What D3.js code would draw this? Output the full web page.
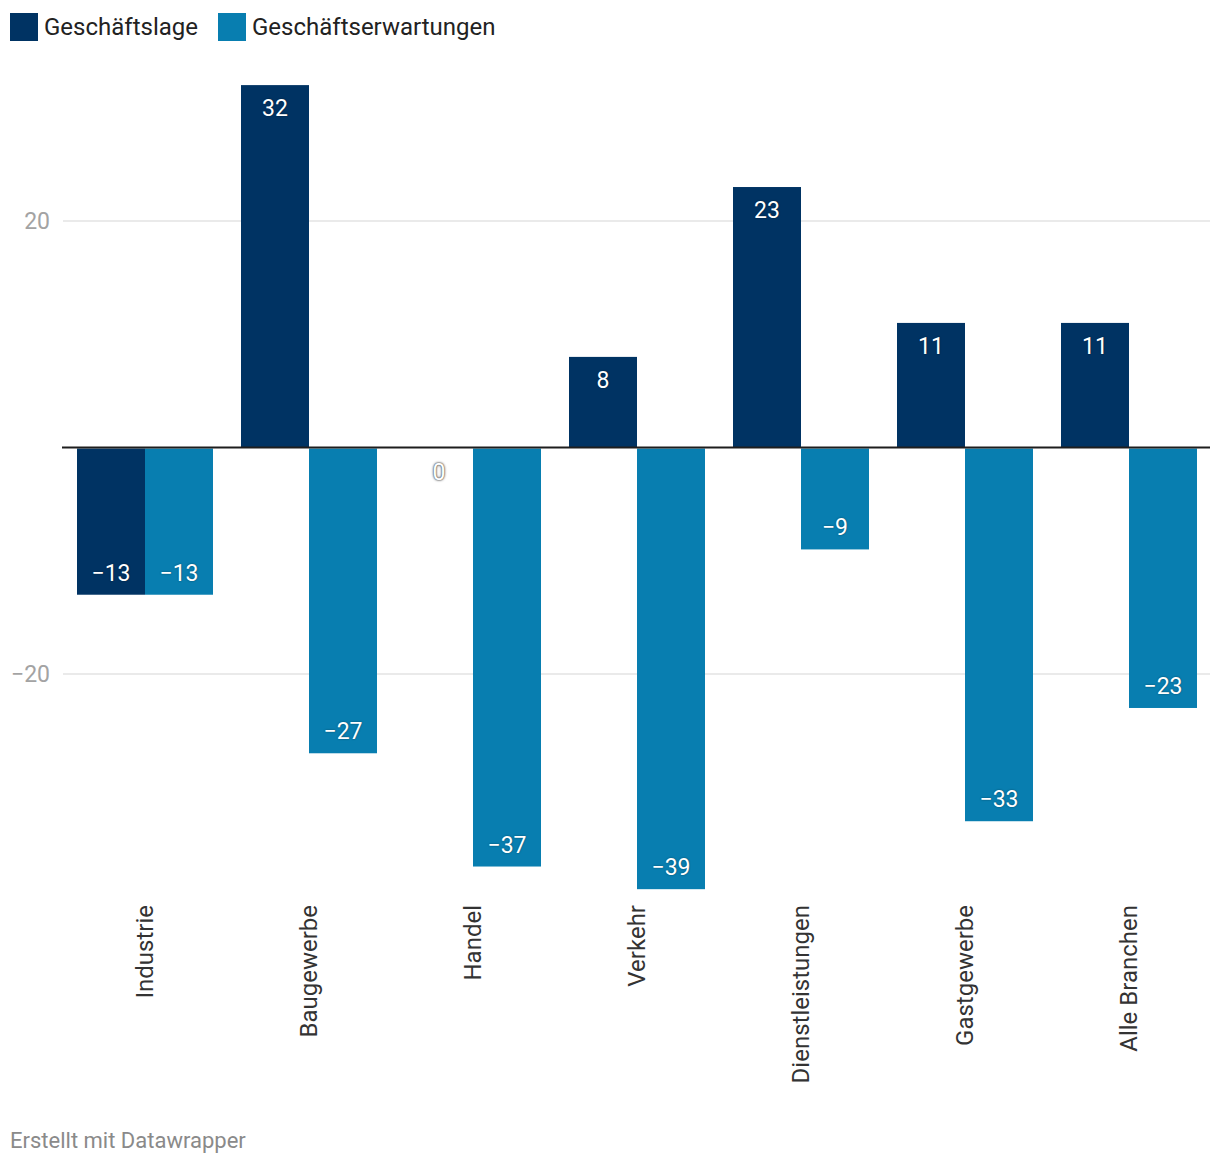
<!DOCTYPE html>
<html><head><meta charset="utf-8">
<script src="https://cdn.jsdelivr.net/npm/d3@7"></script>
<style>
body{margin:0;background:#fff;font-family:Roboto,"Noto Sans",sans-serif;}
svg text{font-family:Roboto,"Noto Sans",sans-serif;}
.vl{fill:#fff;font-size:23px;text-shadow:0 0 2px rgba(0,0,0,0.45);}
.vl0{fill:#fff;font-size:23px;text-shadow:0 0 1px #555,0 0 2px #555,0 0 3px #888;}
</style></head><body>
<svg id="c" width="1220" height="1166"></svg>
<script>
const categories = ["Industrie","Baugewerbe","Handel","Verkehr","Dienstleistungen","Gastgewerbe","Alle Branchen"];
const seriesNames = ["Geschäftslage","Geschäftserwartungen"];
const lage = [-13,32,0,8,23,11,11];
const erwartungen = [-13,-27,-37,-39,-9,-33,-23];
const yTicks = [20,-20];
const colors = ["#003363","#087eb0"];

const svg = d3.select("#c");
const fmt = v => v < 0 ? "\u2212" + Math.abs(v) : String(v);

const y = d3.scaleLinear().domain([-20,20]).range([674,221]);
const x = d3.scaleBand().domain(categories).range([63,1211]).paddingInner(28/164).paddingOuter(14/164);
const xs = d3.scaleBand().domain(seriesNames).range([0,x.bandwidth()]);

// gridlines
svg.selectAll(".grid").data(yTicks).join("line")
  .attr("x1",63).attr("x2",1210).attr("y1",d=>y(d)).attr("y2",d=>y(d))
  .attr("stroke","#e3e3e3").attr("stroke-width",1.5);
svg.selectAll(".yt").data(yTicks).join("text")
  .attr("x",50).attr("y",d=>y(d)+8).attr("text-anchor","end")
  .attr("fill","#a3a3a3").attr("font-size",23).text(d=>fmt(d));

// bars
const series = [lage, erwartungen];
series.forEach((vals,si)=>{
  const g = svg.append("g");
  g.selectAll("rect").data(vals).join("rect")
    .attr("x",(d,i)=>x(categories[i])+xs(seriesNames[si]))
    .attr("width",xs.bandwidth())
    .attr("y",d=>d>=0?y(d):y(0)+1)
    .attr("height",d=>d>=0?Math.max(0,y(0)-y(d)):Math.max(0,y(d)-y(0)-1))
    .attr("fill",colors[si]);
  g.selectAll("text").data(vals).join("text")
    .attr("class",d=>d===0?"vl0":"vl")
    .attr("text-anchor","middle")
    .attr("x",(d,i)=>x(categories[i])+xs(seriesNames[si])+xs.bandwidth()/2)
    .attr("y",d=>d>0?y(d)+31:(d===0?y(0)+32:y(d)-14))
    .text(d=>fmt(d));
});

// zero line
svg.append("line").attr("x1",62).attr("x2",1210).attr("y1",y(0)).attr("y2",y(0))
  .attr("stroke","#1e1e1e").attr("stroke-width",2);

// category labels
svg.selectAll(".cat").data(categories).join("text")
  .attr("transform",d=>`translate(${x(d)+x.bandwidth()/2+8},905) rotate(-90)`)
  .attr("text-anchor","end").attr("fill","#333").attr("font-size",24).text(d=>d);

// legend
const leg = [{x:10,t:seriesNames[0],c:colors[0]},{x:218,t:seriesNames[1],c:colors[1]}];
leg.forEach(l=>{
  svg.append("rect").attr("x",l.x).attr("y",13).attr("width",28).attr("height",28).attr("fill",l.c);
  svg.append("text").attr("x",l.x+34).attr("y",35).attr("font-size",24).attr("fill","#222").text(l.t);
});

// footer
svg.append("text").attr("x",10).attr("y",1148).attr("font-size",22).attr("fill","#8a8a8a").text("Erstellt mit Datawrapper");
</script></body></html>
